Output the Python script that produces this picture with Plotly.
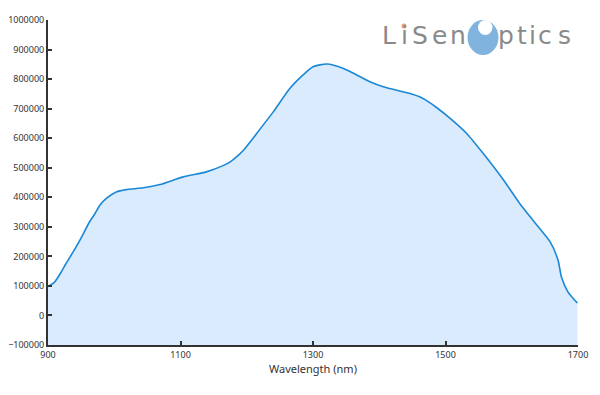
import plotly.graph_objects as go

wavelength = [900, 910, 920, 927, 938, 948, 963, 971, 978, 988, 1003, 1018, 1044, 1069, 1104, 1139,
              1165, 1175, 1190, 1195, 1215, 1240, 1265, 1285, 1300, 1321, 1346, 1366, 1386, 1406,
              1436, 1450, 1461, 1475, 1487, 1507, 1532, 1557, 1587, 1612, 1632, 1658, 1670, 1675,
              1685, 1699]
intensity = [98000, 113000, 147000, 175000, 215000, 254000, 318000, 345000, 372000, 396000, 418000,
             426000, 432000, 443000, 469000, 486000, 508000, 520000, 548000, 559000, 616000, 689000,
             768000, 814000, 842000, 851000, 836000, 814000, 791000, 774000, 757000, 749000, 740000,
             722000, 703000, 667000, 616000, 548000, 460000, 379000, 322000, 249000, 186000, 130000,
             79000, 42000]
baseline_value = -100000

logo_letters = ["L", "i", "S", "e", "n", "p", "t", "i", "c", "s"]
logo_letter_px = [389, 404.5, 420, 439.5, 457.5, 505.5, 522, 532.5, 545, 564]

fig = go.Figure()
fig.add_trace(go.Scatter(x=[wavelength[0], wavelength[-1]], y=[baseline_value, baseline_value],
                         mode="lines", line=dict(width=0), hoverinfo="skip", showlegend=False))
fig.add_trace(go.Scatter(x=wavelength, y=intensity, mode="lines", fill="tonexty",
                         fillcolor="#d9ebfc",
                         line=dict(color="#1a88d6", width=1.6, shape="spline", smoothing=0.6),
                         showlegend=False))

axis_common = dict(showline=True, linecolor="#333333", linewidth=2, ticks="inside", ticklen=4,
                   tickwidth=2, tickcolor="#333333", showgrid=False, zeroline=False,
                   automargin=False,
                   tickfont=dict(family="Noto Sans", size=9, color="#333333"))

fig.update_layout(
    width=600, height=395, paper_bgcolor="white", plot_bgcolor="white",
    margin=dict(l=40, r=30, t=12, b=58),
    xaxis=dict(range=[900, 1700], dtick=200, tick0=900,
               title=dict(text="Wavelength (nm)", font=dict(family="Noto Sans", size=11, color="#333333"),
                          standoff=6), **axis_common),
    yaxis=dict(range=[-100000, 1000000], dtick=100000, tickformat="d", **axis_common),
)

# Logo (positions measured in page pixels; plot area spans 48..578 x 20..345)
def px_x(px):
    return (px - 48) / 530

def px_y(py):
    return (345 - py) / 325

fig.add_shape(type="circle", xref="paper", yref="paper", x0=px_x(467.5), x1=px_x(498.5),
              y0=px_y(55), y1=px_y(20), fillcolor="#80b3de", line=dict(width=0))
fig.add_shape(type="circle", xref="paper", yref="paper", x0=px_x(478), x1=px_x(492.5),
              y0=px_y(35), y1=px_y(20), fillcolor="white", line=dict(width=0))
for ch, px in zip(logo_letters, logo_letter_px):
    fig.add_annotation(text=ch, xref="paper", yref="paper", x=px_x(px), y=px_y(36),
                       xanchor="center", yanchor="middle", showarrow=False,
                       font=dict(family="DejaVu Sans", size=25, color="#8a8a8a"))
fig.add_shape(type="circle", xref="paper", yref="paper", x0=px_x(401.5), x1=px_x(406.5),
              y0=px_y(28.5), y1=px_y(23.5), fillcolor="#f0a070", line=dict(width=0))

fig.write_html("out.html")
